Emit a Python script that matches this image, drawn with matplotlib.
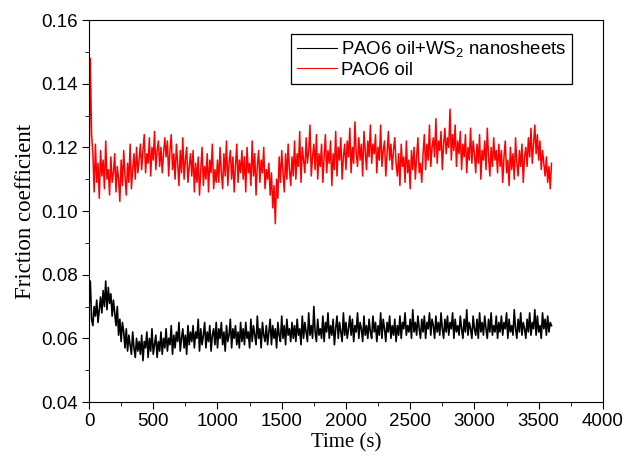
import numpy as np
import matplotlib.pyplot as plt
from matplotlib.ticker import MultipleLocator

plt.rcParams['mathtext.fontset'] = 'custom'
plt.rcParams['mathtext.rm'] = 'Liberation Sans'

# sampling grid (s)
time_s = np.arange(0, 3601, 10)

# friction coefficient x1000 (one row = 200 s)
ws2_oil = [
    70, 78, 66, 64, 70, 67, 72, 65, 69, 73, 68, 75, 70, 78, 69, 76, 71, 74, 67, 72,
    68, 64, 70, 61, 66, 59, 65, 62, 57, 63, 56, 61, 58, 55, 62, 57, 54, 60, 56, 59,
    55, 61, 53, 59, 57, 62, 54, 60, 56, 63, 55, 58, 61, 54, 59, 56, 62, 55, 60, 57,
    63, 56, 60, 58, 64, 55, 61, 57, 62, 59, 65, 56, 60, 63, 57, 61, 55, 64, 58, 62,
    59, 64, 57, 62, 60, 66, 56, 63, 58, 61, 65, 57, 62, 59, 64, 56, 61, 63, 58, 65,
    57, 63, 60, 65, 58, 62, 56, 64, 59, 61, 66, 57, 63, 60, 64, 58, 62, 57, 65, 59,
    63, 58, 65, 60, 62, 57, 66, 59, 64, 61, 58, 67, 60, 63, 57, 65, 61, 59, 64, 58,
    62, 66, 58, 64, 60, 63, 57, 65, 61, 59, 67, 60, 64, 58, 66, 61, 63, 59, 65, 60,
    64, 59, 66, 61, 63, 58, 67, 60, 65, 62, 59, 68, 61, 64, 60, 70, 62, 59, 66, 61,
    63, 60, 67, 59, 65, 62, 68, 60, 64, 61, 66, 58, 63, 67, 60, 65, 62, 59, 68, 61,
    65, 60, 63, 67, 61, 66, 59, 64, 62, 68, 60, 65, 63, 59, 67, 61, 64, 60, 66, 62,
    60, 67, 62, 65, 59, 64, 61, 68, 60, 66, 63, 59, 65, 62, 67, 60, 64, 61, 66, 59,
    64, 61, 67, 60, 65, 63, 68, 61, 64, 62, 66, 60, 69, 62, 65, 61, 67, 63, 60, 66,
    62, 67, 60, 65, 63, 68, 61, 66, 64, 60, 67, 62, 65, 61, 68, 63, 60, 66, 62, 67,
    61, 65, 63, 68, 60, 66, 62, 64, 61, 67, 63, 60, 66, 62, 69, 61, 65, 63, 60, 67,
    63, 61, 66, 60, 68, 62, 65, 61, 67, 63, 60, 66, 62, 68, 61, 64, 62, 67, 60, 65,
    62, 67, 61, 65, 63, 68, 60, 66, 62, 64, 61, 69, 63, 60, 66, 62, 68, 61, 65, 63,
    60, 66, 62, 68, 61, 65, 63, 69, 61, 67, 62, 64, 60, 68, 63, 66, 61, 67, 62, 65,
    64,
]

pao6_oil = [
    110, 148, 124, 118, 106, 121, 109, 115, 104, 119, 111, 116, 107, 122, 110, 113, 105, 117, 109, 112,
    118, 106, 114, 110, 103, 116, 108, 119, 111, 105, 115, 109, 121, 107, 113, 118, 110, 120, 112, 116,
    121, 113, 119, 124, 112, 118, 115, 123, 111, 120, 116, 125, 113, 119, 122, 114, 120, 112, 118, 123,
    117, 122, 111, 119, 124, 113, 118, 110, 121, 115, 108, 119, 112, 123, 110, 116, 120, 109, 114, 118,
    111, 119, 106, 115, 109, 117, 105, 113, 120, 108, 114, 110, 118, 106, 116, 112, 121, 107, 113, 109,
    116, 109, 120, 112, 107, 118, 111, 122, 108, 115, 119, 110, 117, 106, 114, 121, 109, 116, 112, 119,
    110, 117, 106, 120, 112, 115, 108, 122, 111, 118, 105, 114, 119, 109, 116, 112, 120, 107, 113, 110,
    115, 105, 112, 101, 108, 96, 110, 104, 117, 109, 119, 112, 106, 118, 110, 121, 113, 108, 117, 111,
    122, 110, 118, 114, 125, 109, 120, 116, 112, 123, 115, 119, 127, 111, 117, 121, 113, 124, 110, 118,
    114, 121, 109, 117, 124, 112, 119, 115, 122, 108, 118, 113, 125, 111, 120, 116, 123, 110, 117, 121,
    113, 122, 117, 126, 112, 120, 115, 128, 118, 114, 123, 116, 121, 111, 125, 119, 113, 122, 117, 127,
    115, 121, 118, 124, 112, 120, 116, 127, 114, 119, 122, 111, 118, 125, 116, 121, 113, 119, 123, 115,
    111, 118, 108, 121, 114, 117, 109, 122, 112, 116, 107, 119, 113, 120, 110, 117, 123, 112, 115, 109,
    118, 124, 113, 121, 116, 127, 114, 120, 123, 117, 129, 115, 122, 119, 125, 113, 121, 126, 118, 123,
    120, 132, 116, 124, 119, 127, 114, 122, 118, 125, 113, 121, 117, 124, 112, 120, 116, 126, 115, 122,
    118, 112, 121, 115, 124, 110, 119, 116, 122, 113, 126, 117, 111, 120, 114, 123, 116, 119, 112, 121,
    114, 119, 109, 117, 122, 112, 116, 108, 120, 113, 118, 110, 123, 115, 111, 119, 114, 121, 109, 117,
    120, 114, 123, 117, 126, 115, 121, 127, 118, 124, 116, 122, 113, 119, 115, 111, 117, 109, 114, 107,
    115,
]

fig = plt.figure(figsize=(6.3, 4.63), dpi=100)
ax = fig.add_axes([0.1413, 0.1317, 0.8157, 0.8251])

ax.plot(time_s, np.array(ws2_oil) / 1000, color='black', lw=1.2,
        label=r'PAO6 oil+WS$_\mathregular{2}$ nanosheets')
ax.plot(time_s, np.array(pao6_oil) / 1000, color='red', lw=1.1,
        label='PAO6 oil')

ax.set_xlim(0, 4000)
ax.set_ylim(0.04, 0.16)
ax.xaxis.set_major_locator(MultipleLocator(500))
ax.xaxis.set_minor_locator(MultipleLocator(250))
ax.yaxis.set_major_locator(MultipleLocator(0.02))
ax.yaxis.set_minor_locator(MultipleLocator(0.01))
ax.yaxis.set_major_formatter(plt.FuncFormatter(lambda v, p: f'{v:.2f}'))
ax.tick_params(which='both', direction='out', top=False, right=False,
               labelsize=13.5, labelfontfamily='Liberation Sans')
ax.tick_params(which='major', length=5, pad=3)
ax.tick_params(which='minor', length=3)

ax.set_xlabel('Time (s)', family='Liberation Serif', fontsize=15, labelpad=2)
ax.set_ylabel('Friction coefficient', family='Liberation Serif', fontsize=16.5,
              labelpad=4)

leg = ax.legend(loc='upper right', bbox_to_anchor=(0.940, 0.963), borderaxespad=0,
                prop={'family': 'Liberation Sans', 'size': 13.4},
                fancybox=False, edgecolor='black', framealpha=1,
                handlelength=2.15, handletextpad=0.25, borderpad=0.3,
                labelspacing=0.1)
leg.get_frame().set_linewidth(0.9)
for line in leg.get_lines():
    line.set_linewidth(0.8)

fig.savefig('out.png', dpi=100)
